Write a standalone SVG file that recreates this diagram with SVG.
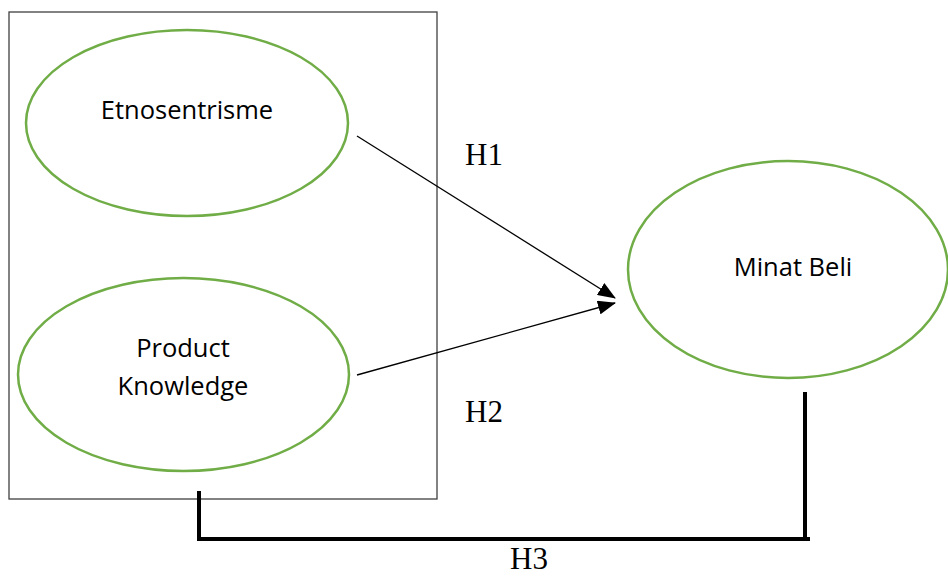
<svg xmlns="http://www.w3.org/2000/svg" width="948" height="576" viewBox="0 0 948 576">
<defs>
<style>
.node{fill:#fff;stroke:#70ad47;stroke-width:2.5}
.lbl{font-family:"Open Sans","Liberation Sans",sans-serif;font-size:25.5px;fill:#000;text-anchor:middle}
.h{font-family:"Liberation Serif",serif;font-size:31px;fill:#000}
.arr{stroke:#000;stroke-width:1.3;fill:none}
.br{stroke:#000;stroke-width:4;fill:none}
</style>
<marker id="ah" markerWidth="18" markerHeight="14" refX="17" refY="7" orient="auto" markerUnits="userSpaceOnUse">
<path d="M0,0 L18,7 L0,14 Z" fill="#000"/>
</marker>
</defs>
<rect width="948" height="576" fill="#fff"/>
<rect x="9" y="12" width="428" height="487" fill="none" stroke="#404040" stroke-width="1.3"/>
<g id="etnosentrisme">
<ellipse class="node" cx="187" cy="123" rx="161" ry="93"/>
<text class="lbl" x="187" y="119">Etnosentrisme</text>
</g>
<g id="product-knowledge">
<ellipse class="node" cx="183.5" cy="374.5" rx="165.5" ry="96.5"/>
<text class="lbl" x="183" y="357">Product</text>
<text class="lbl" x="183" y="395">Knowledge</text>
</g>
<g id="minat-beli">
<ellipse class="node" cx="788" cy="269.5" rx="160" ry="108.5"/>
<text class="lbl" x="793" y="276">Minat Beli</text>
</g>
<g id="connectors">
<line class="arr" x1="357" y1="136" x2="615" y2="298" marker-end="url(#ah)"/>
<line class="arr" x1="357" y1="375" x2="615" y2="303" marker-end="url(#ah)"/>
<polyline class="br" points="199,491 199,539 810,539"/>
<line class="br" x1="805" y1="392" x2="805" y2="541"/>
</g>
<text class="h" x="465" y="165">H1</text>
<text class="h" x="465" y="422">H2</text>
<text class="h" x="510" y="569">H3</text>
</svg>
